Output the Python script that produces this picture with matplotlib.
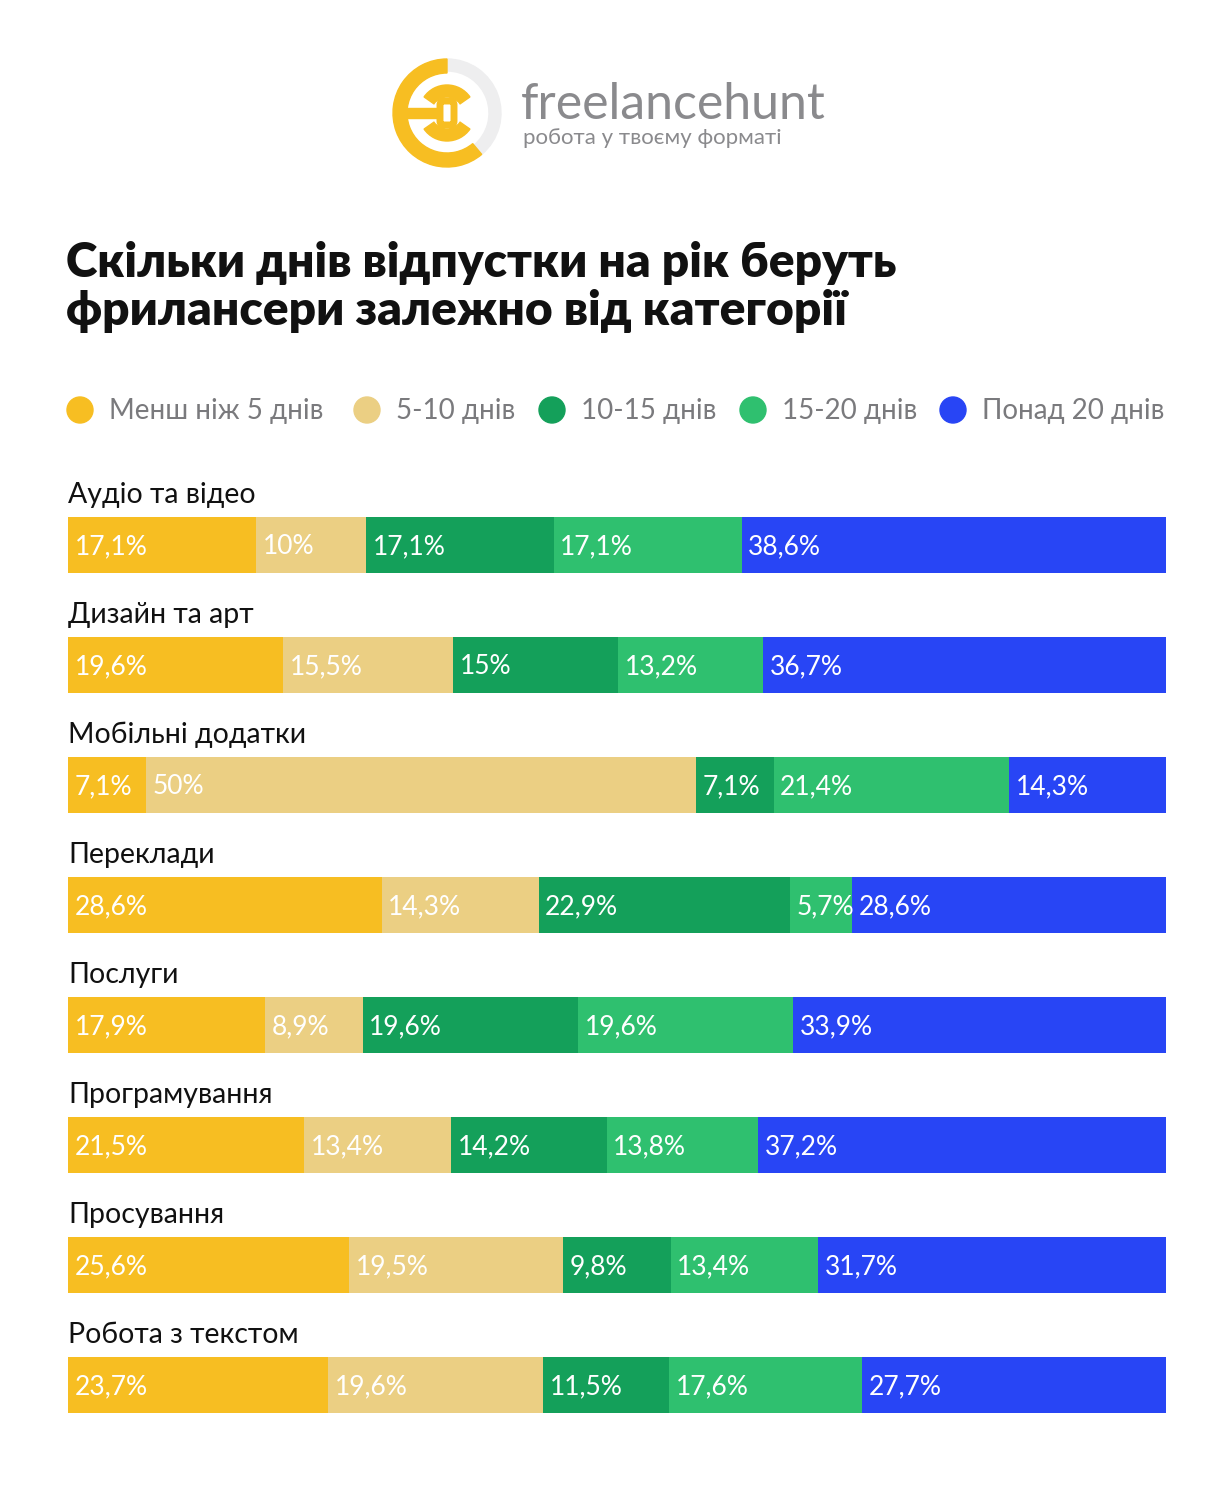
import numpy as np
import matplotlib
matplotlib.use("Agg")
import matplotlib.pyplot as plt
from matplotlib.patches import Wedge, Circle, Rectangle, FancyBboxPatch

# ---- data ----
categories = ["Аудіо та відео", "Дизайн та арт", "Мобільні додатки", "Переклади",
              "Послуги", "Програмування", "Просування", "Робота з текстом"]
series = ["Менш ніж 5 днів", "5-10 днів", "10-15 днів", "15-20 днів", "Понад 20 днів"]
less5 = [17.1, 19.6, 7.1, 28.6, 17.9, 21.5, 25.6, 23.7]
d5_10 = [10.0, 15.5, 50.0, 14.3, 8.9, 13.4, 19.5, 19.6]
d10_15 = [17.1, 15.0, 7.1, 22.9, 19.6, 14.2, 9.8, 11.5]
d15_20 = [17.1, 13.2, 21.4, 5.7, 19.6, 13.8, 13.4, 17.6]
over20 = [38.6, 36.7, 14.3, 28.6, 33.9, 37.2, 31.7, 27.7]
colors = ["#F7BE22", "#EBCF83", "#14A05A", "#2FC06F", "#2845F5"]

FONT = ["Lato", "Noto Sans", "DejaVu Sans"]
plt.rcParams["font.family"] = FONT

W, H = 1225, 1492
fig = plt.figure(figsize=(W / 100, H / 100), dpi=100)

# overlay in pixel coords for logo / legend / titles
ov = fig.add_axes([0, 0, 1, 1])
ov.set_xlim(0, W)
ov.set_ylim(H, 0)
ov.axis("off")

# logo
cx, cy, r = 447, 113, 54
ov.add_patch(Wedge((cx, cy), r, -90, 50, width=12, color="#EEEEEF"))
ov.add_patch(Wedge((cx, cy), r, 50, 270, width=14, color="#F7BE22"))
ov.add_patch(Wedge((cx, cy), 28, 35, 145, width=12, color="#F7BE22"))
ov.add_patch(Wedge((cx, cy), 28, 215, 325, width=12, color="#F7BE22"))
ov.add_patch(FancyBboxPatch((cx - 7, cy - 12), 14, 24, boxstyle="round,pad=0,rounding_size=4",
                            fc="white", ec="#F7BE22", lw=5))
ov.add_patch(Rectangle((cx - r + 6, cy - 5), 40, 10, color="#F7BE22"))
ov.text(521, 105, "freelancehunt", fontsize=36, color="#8A8A8D", va="center", ha="left")
ov.text(523, 138, "робота у твоєму форматі", fontsize=16, color="#8A8A8D", va="center", ha="left")

# title
ov.text(66, 263, "Скільки днів відпустки на рік беруть", fontsize=34.5, fontweight="heavy",
        color="#111111", va="center", ha="left")
ov.text(66, 311, "фрилансери залежно від категорії", fontsize=34.5, fontweight="heavy",
        color="#111111", va="center", ha="left")

# legend
leg_x = [80, 367, 552, 753, 953]
for x, lab, c in zip(leg_x, series, colors):
    ov.add_patch(Circle((x, 410), 13, color=c))
    ov.text(x + 29, 411, lab, fontsize=20, color="#7A7A7D", va="center", ha="left")

# bars
ax = fig.add_axes([68 / W, (H - 1445) / H, 1098 / W, 1020 / H])
data = np.array([less5, d5_10, d10_15, d15_20, over20])
data = data / data.sum(axis=0) * 100
y = np.arange(len(categories))
left = np.zeros(len(categories))
for k in range(len(series)):
    ax.barh(y, data[k], left=left, height=0.467, color=colors[k], linewidth=0)
    raw = [less5, d5_10, d10_15, d15_20, over20][k]
    for i in range(len(categories)):
        v = raw[i]
        txt = ("%g" % v).replace(".", ",") + "%"
        ax.text(left[i] + 0.6, y[i] + 0.015, txt, color="white", fontsize=19, va="center", ha="left")
    left += data[k]

for i, cat in enumerate(categories):
    ax.text(0, y[i] - 0.415, cat, fontsize=20.5, color="#111111", va="center", ha="left")

ax.set_xlim(0, 100)
ax.set_ylim(7.5, -1)
ax.axis("off")

fig.savefig("out.png", dpi=100)
